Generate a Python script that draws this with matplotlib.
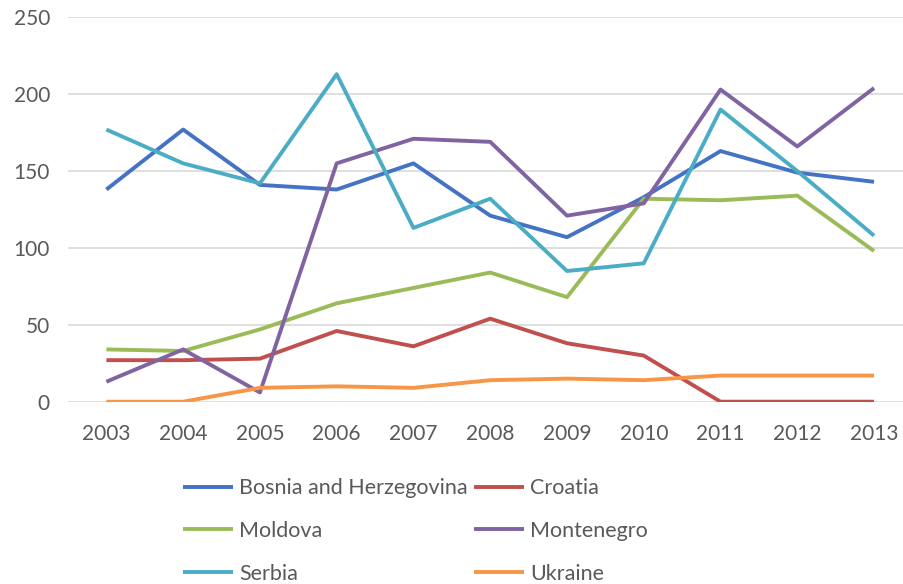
import matplotlib.pyplot as plt

years = [2003, 2004, 2005, 2006, 2007, 2008, 2009, 2010, 2011, 2012, 2013]

bosnia = [138, 177, 141, 138, 155, 121, 107, 133, 163, 149, 143]
croatia = [27, 27, 28, 46, 36, 54, 38, 30, 0, 0, 0]
moldova = [34, 33, 47, 64, 74, 84, 68, 132, 131, 134, 98]
montenegro = [13, 34, 6, 155, 171, 169, 121, 129, 203, 166, 204]
serbia = [177, 155, 142, 213, 113, 132, 85, 90, 190, 150, 108]
ukraine = [0, 0, 9, 10, 9, 14, 15, 14, 17, 17, 17]

series = [
    ("Bosnia and Herzegovina", bosnia, "#4472C4"),
    ("Croatia", croatia, "#C0504D"),
    ("Moldova", moldova, "#9BBB59"),
    ("Montenegro", montenegro, "#8064A2"),
    ("Serbia", serbia, "#4BACC6"),
    ("Ukraine", ukraine, "#F79646"),
]

plt.rcParams['font.family'] = ['Lato', 'DejaVu Sans']

fig = plt.figure(figsize=(9.04, 5.84), dpi=100)
ax = fig.add_axes([68 / 904, 1 - 401.7 / 584, 1 - 68 / 904, (401.7 - 17.3) / 584])

lines = []
for name, vals, col in series:
    ln, = ax.plot(years, vals, color=col, linewidth=2.8, label=name, solid_capstyle='butt')
    lines.append(ln)

ax.set_xlim(2002.5, 2013.39)
ax.set_ylim(0, 250)
ax.set_yticks(range(0, 251, 50))
ax.set_xticks(years)
ax.grid(axis='y', color='#D9D9D9', linewidth=1.2)
ax.set_axisbelow(True)
for s in ax.spines.values():
    s.set_visible(False)
ax.tick_params(length=0, labelsize=15, colors='#595959', pad=16)
ax.tick_params(axis='y', pad=13)

# legend fills by column, so reorder to read row by row
order = [0, 2, 4, 1, 3, 5]
fig.legend([lines[i] for i in order], [series[i][0] for i in order],
           loc='upper left', bbox_to_anchor=(164 / 904, 1 - 459 / 584), ncol=2,
           frameon=False, fontsize=15.5, handlelength=2.3, handletextpad=0.3,
           columnspacing=0.3, labelspacing=1.05, labelcolor='#595959')

fig.savefig("out.png", dpi=100)
